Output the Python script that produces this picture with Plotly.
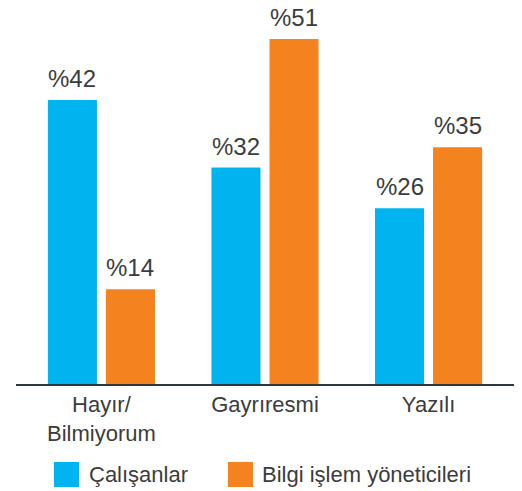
import plotly.graph_objects as go

categories = ["Hayır/<br>Bilmiyorum", "Gayrıresmi", "Yazılı"]
series_names = ["Çalışanlar", "Bilgi işlem yöneticileri"]
calisanlar = [42, 32, 26]
bilgi_islem = [14, 51, 35]
colors = ["#00B5EF", "#F4821F"]

FONT = "Liberation Sans"
TXT = "#3c3c3c"

W, H = 522, 491
L, R, T, B = 16, 8, 12, 107
pw, ph = W - L - R, H - T - B
XR = [-0.5225, 2.5225]
px_per_cat = pw / (XR[1] - XR[0])
BARGAP, GROUPGAP = 0.29, 0.155
slot_px = (1 - BARGAP) / 2 * px_per_cat

fig = go.Figure()
for i, (name, vals, col) in enumerate(zip(series_names, [calisanlar, bilgi_islem], colors)):
    fig.add_trace(go.Bar(
        x=categories, y=vals, name=name, marker_color=col,
        marker_line_width=0, showlegend=False, hoverinfo="skip",
    ))
    shift = (i - 0.5) * slot_px
    for c, v in zip(categories, vals):
        fig.add_annotation(x=c, y=v, text=f"%{v}", showarrow=False,
                           xshift=shift, yshift=6, yanchor="bottom",
                           font=dict(family=FONT, size=24, color=TXT))

def px2paper_x(px):
    return (px - L) / pw

def px2paper_y(py):
    return (H - B - py) / ph

# manual legend
legend_items = [(54, 87), (228, 260)]
for (sx, tx), name, col in zip(legend_items, series_names, colors):
    fig.add_shape(type="rect", xref="paper", yref="paper",
                  x0=px2paper_x(sx), x1=px2paper_x(sx + 25),
                  y0=px2paper_y(462), y1=px2paper_y(487),
                  fillcolor=col, line_width=0)
    fig.add_annotation(xref="paper", yref="paper", x=px2paper_x(tx),
                       y=px2paper_y(474.5), text=name, showarrow=False,
                       xanchor="left", yanchor="middle",
                       font=dict(family=FONT, size=22, color=TXT))

fig.update_layout(
    width=W, height=H,
    margin=dict(l=L, r=R, t=T, b=B),
    paper_bgcolor="white", plot_bgcolor="white",
    barmode="group", bargap=BARGAP, bargroupgap=GROUPGAP,
    font=dict(family=FONT, size=22, color=TXT),
    xaxis=dict(range=XR, showgrid=False, zeroline=False, fixedrange=True,
               showline=True, linecolor="#2b3848", linewidth=1.5,
               ticks="", tickfont=dict(family=FONT, size=22, color=TXT)),
    yaxis=dict(range=[0, 55], visible=False, fixedrange=True),
)

fig.write_html("out.html", config={"displayModeBar": False},
               post_script="document.body.style.margin='0';document.body.style.overflow='hidden';")
